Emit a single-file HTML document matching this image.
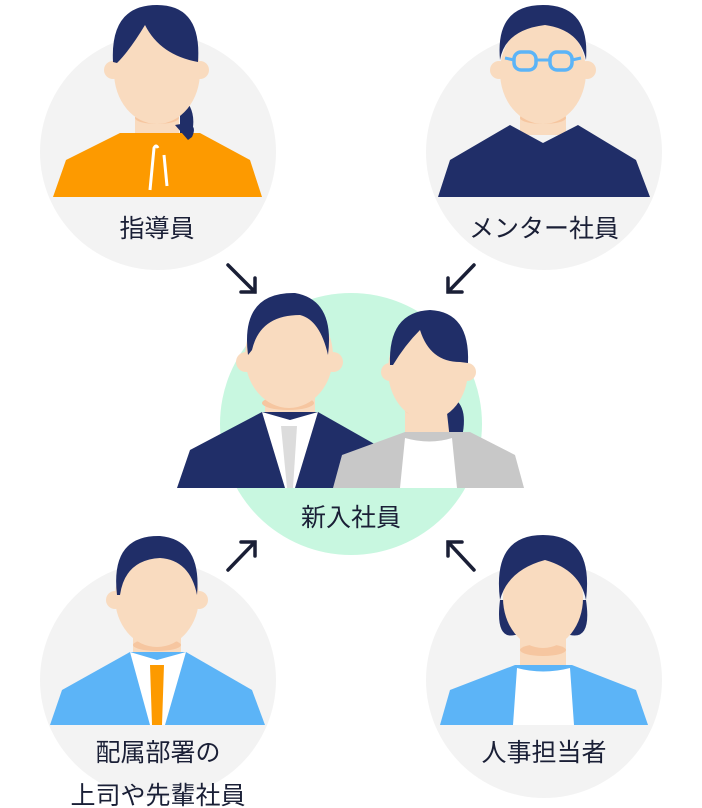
<!DOCTYPE html>
<html><head><meta charset="utf-8"><style>
html,body{margin:0;padding:0;background:#fff;}
svg{display:block}
text{font-family:"Liberation Sans","Noto Sans CJK JP",sans-serif;fill:#1a1f36;font-size:25px;text-anchor:middle}
</style></head><body>
<svg width="702" height="808" viewBox="0 0 702 808">
<defs>
<clipPath id="c1"><rect x="0" y="0" width="702" height="198"/></clipPath>
<clipPath id="c2"><rect x="0" y="0" width="702" height="489"/></clipPath>
<clipPath id="c3"><rect x="0" y="0" width="702" height="726"/></clipPath>
</defs>
<circle cx="158" cy="152" r="118" fill="#f3f3f3"/>
<circle cx="544" cy="152" r="118" fill="#f3f3f3"/>
<circle cx="351" cy="424" r="131" fill="#c8f7e0"/>
<circle cx="158" cy="680" r="118" fill="#f3f3f3"/>
<circle cx="544" cy="680" r="118" fill="#f3f3f3"/>

<!-- top-left woman -->
<g clip-path="url(#c1)">
<path d="M180 95 Q200 110 190 140 L180 140 Z" fill="#202e68"/>
<rect x="135" y="95" width="44" height="45" fill="#f9dbbf"/>
<ellipse cx="157" cy="118" rx="22" ry="6" fill="#f6c6a0"/>
<path d="M53 197 L66 160 L120 133 L200 133 L250 160 L262 197 Z" fill="#fd9a00"/>
<path d="M150 190 L154 148 Q156 144 158 148" stroke="#fff" stroke-width="3" fill="none"/>
<path d="M164 155 L167 186" stroke="#fff" stroke-width="3"/>
<circle cx="113" cy="70" r="9" fill="#f9dbbf"/><circle cx="200" cy="70" r="9" fill="#f9dbbf"/>
<ellipse cx="157" cy="72" rx="43" ry="52" fill="#f9dbbf"/>
<path d="M113 62 Q110 5 157 5 Q202 5 198 62 Q160 55 145 25 Q130 50 117 63 Z" fill="#202e68"/>
<path d="M175 125 Q200 120 192 137 L188 140 Z" fill="#202e68"/>
</g>
<text x="157" y="237">指導員</text>

<!-- top-right man w glasses -->
<g clip-path="url(#c1)">
<rect x="520" y="95" width="46" height="40" fill="#f9dbbf"/>
<ellipse cx="543" cy="118" rx="23" ry="6" fill="#f6c6a0"/>
<path d="M438 197 L450 160 L510 125 L543 143 L578 125 L636 160 L650 197 Z" fill="#202e68"/>
<circle cx="499" cy="70" r="9" fill="#f9dbbf"/><circle cx="587" cy="70" r="9" fill="#f9dbbf"/>
<ellipse cx="543" cy="72" rx="43" ry="52" fill="#f9dbbf"/>
<path d="M500 60 Q495 5 543 5 Q590 5 586 60 Q580 30 545 25 Q505 30 500 60 Z" fill="#202e68"/>
<rect x="514" y="52" width="22" height="18" rx="7" fill="none" stroke="#5cb4f7" stroke-width="3.5"/>
<rect x="550" y="52" width="22" height="18" rx="7" fill="none" stroke="#5cb4f7" stroke-width="3.5"/>
<path d="M536 60 L550 60 M505 58 L514 60 M572 60 L581 58" stroke="#5cb4f7" stroke-width="3"/>
</g>
<text x="544" y="237">メンター社員</text>

<!-- arrows -->
<g stroke="#1a1f36" stroke-width="3.5" fill="none" stroke-linecap="round">
<path d="M228 265 L255 292 M255 278 L255 292 L241 292"/>
<path d="M474 265 L448 292 M448 278 L448 292 L462 292"/>
<path d="M228 570 L255 542 M241 542 L255 542 L255 556"/>
<path d="M474 570 L448 542 M462 542 L448 542 L448 556"/>
</g>

<!-- center -->
<g clip-path="url(#c2)">
<rect x="265" y="380" width="50" height="40" fill="#f9dbbf"/>
<ellipse cx="288" cy="403" rx="26" ry="7" fill="#f6c6a0"/>
<path d="M177 488 L190 450 L262 412 L318 412 L385 450 L395 488 Z" fill="#202e68"/>
<path d="M262 412 L290 420 L318 412 L295 488 L285 488 Z" fill="#fff"/>
<path d="M281 426 L297 426 L293 488 L287 488 Z" fill="#dcdcdc"/>
<circle cx="246" cy="362" r="10" fill="#f9dbbf"/><circle cx="333" cy="362" r="10" fill="#f9dbbf"/>
<ellipse cx="289" cy="356" rx="44" ry="52" fill="#f9dbbf"/>
<path d="M248 355 Q240 292 295 293 Q335 300 328 355 Q320 320 300 315 Q260 315 252 350 Z" fill="#202e68"/>
<rect x="405" y="400" width="46" height="40" fill="#f9dbbf"/>
<ellipse cx="428" cy="410" rx="23" ry="7" fill="#f6c6a0"/>
<path d="M445 395 Q470 400 462 437 L475 437 L450 440 Z" fill="#202e68"/>
<path d="M333 488 L342 455 L405 432 L470 432 L515 455 L524 488 Z" fill="#c8c8c8"/>
<path d="M405 438 Q430 445 452 438 L457 488 L400 488 Z" fill="#fff"/>
<circle cx="390" cy="372" r="9" fill="#f9dbbf"/><circle cx="467" cy="372" r="9" fill="#f9dbbf"/>
<ellipse cx="428" cy="370" rx="40" ry="50" fill="#f9dbbf"/>
<path d="M390 365 Q388 312 430 310 Q470 312 468 363 L460 362 Q430 362 420 330 Q405 345 393 365 Z" fill="#202e68"/>
</g>
<text x="351" y="526">新入社員</text>

<!-- bottom-left man -->
<g clip-path="url(#c3)">
<rect x="133" y="620" width="48" height="40" fill="#f9dbbf"/>
<ellipse cx="157" cy="645" rx="24" ry="6" fill="#f6c6a0"/>
<path d="M50 725 L62 690 L130 652 L186 652 L252 690 L265 725 Z" fill="#5cb4f7"/>
<path d="M130 652 L157 660 L186 652 L165 725 L150 725 Z" fill="#fff"/>
<path d="M150 665 L164 665 L162 725 L152 725 Z" fill="#fd9a00"/>
<circle cx="115" cy="600" r="9" fill="#f9dbbf"/><circle cx="199" cy="600" r="9" fill="#f9dbbf"/>
<ellipse cx="157" cy="597" rx="42" ry="50" fill="#f9dbbf"/>
<path d="M117 595 Q110 535 160 536 Q202 540 197 595 Q190 560 160 558 Q125 560 120 595 Z" fill="#202e68"/>
</g>
<text x="158" y="761">配属部署の</text>
<text x="158" y="804">上司や先輩社員</text>

<!-- bottom-right woman -->
<g clip-path="url(#c3)">
<rect x="520" y="625" width="46" height="45" fill="#f9dbbf"/>
<ellipse cx="543" cy="650" rx="23" ry="6" fill="#f6c6a0"/>
<path d="M440 725 L450 690 L515 665 L572 665 L636 690 L648 725 Z" fill="#5cb4f7"/>
<path d="M517 668 Q543 675 570 668 L574 725 L513 725 Z" fill="#fff"/>
<path d="M500 600 Q495 640 515 635 L570 635 Q592 640 586 600 Z" fill="#202e68"/>
<ellipse cx="543" cy="598" rx="40" ry="50" fill="#f9dbbf"/>
<path d="M500 600 Q492 535 543 535 Q594 535 586 600 Q580 570 545 560 Q508 570 500 600 Z" fill="#202e68"/>
</g>
<text x="544" y="761">人事担当者</text>
</svg>
</body></html>
